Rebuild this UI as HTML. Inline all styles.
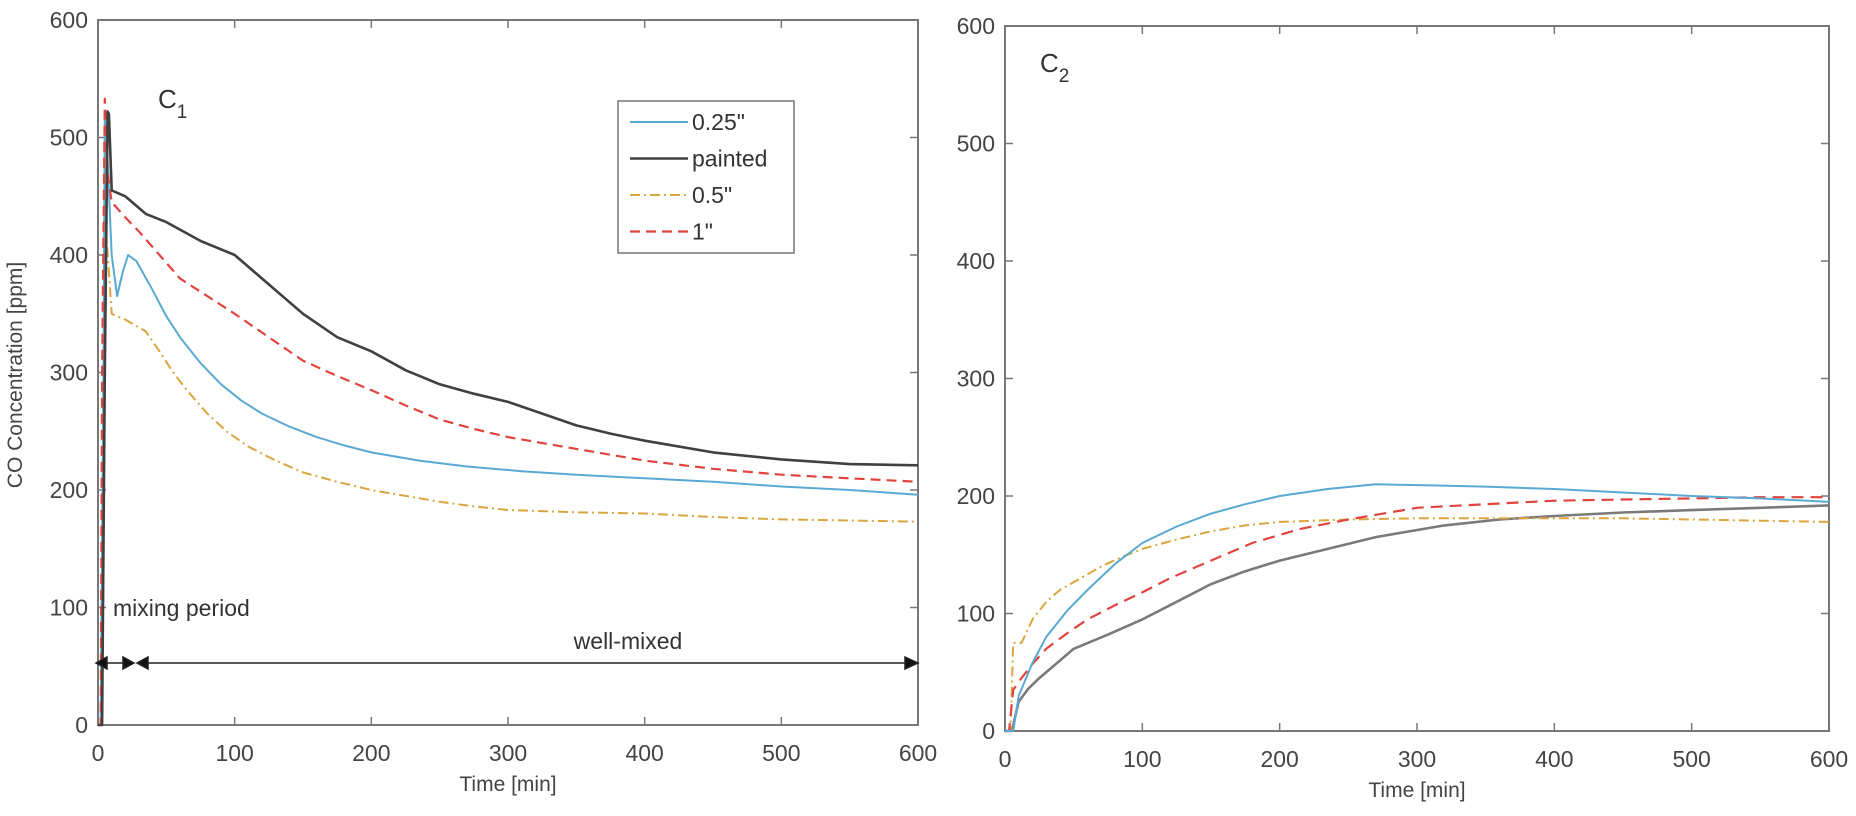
<!DOCTYPE html>
<html><head><meta charset="utf-8"><style>
html,body{margin:0;padding:0;background:#fff;}
svg{display:block;font-family:"Liberation Sans",Arial,sans-serif;}
</style></head><body>
<svg id="chart" width="1856" height="816" viewBox="0 0 1856 816"></svg>
<script>
// ---- data ----
const xTicks = [0,100,200,300,400,500,600];
const yTicks = [0,100,200,300,400,500,600];
const c1Blue_t = [0,2,4,5,7,10,14,18,22,28,40,50,60,75,90,105,120,140,160,180,200,235,270,310,350,400,450,500,550,600];
const c1Blue_v = [0,0,300,520,480,400,365,385,400,395,370,348,330,308,290,276,265,254,245,238,232,225,220,216,213,210,207,203,200,196];
const c1Black_t = [0,3,5,7,8,10,20,35,50,75,100,125,150,175,200,225,250,275,300,325,350,375,400,450,500,550,600];
const c1Black_v = [0,0,300,522,520,455,450,435,428,412,400,375,350,330,318,302,290,282,275,265,255,248,242,232,226,222,221];
const c1Orange_t = [0,2,4,5,6,10,20,35,45,55,65,80,95,110,130,150,175,200,225,250,275,300,350,400,450,500,550,600];
const c1Orange_v = [0,0,300,500,420,350,345,335,318,300,285,265,249,237,225,215,207,200,195,190,186,183,181,180,177,175,174,173];
const c1Red_t = [0,2,3,5,7,10,20,30,45,60,80,100,125,150,175,200,225,250,275,300,350,400,450,500,550,600];
const c1Red_v = [0,0,300,533,470,445,432,420,400,380,365,350,330,310,297,285,272,260,252,245,235,225,218,213,210,207];
const c2Blue_t = [0,6,10,20,30,45,60,80,100,125,150,175,200,235,270,310,350,400,450,500,550,600];
const c2Blue_v = [0,0,30,58,80,102,120,142,160,174,185,193,200,206,210,209,208,206,203,200,198,195];
const c2Orange_t = [0,4,6,12,20,30,40,55,70,85,100,125,150,175,200,250,300,350,400,450,500,550,600];
const c2Orange_v = [0,0,75,75,95,110,120,130,140,148,155,163,170,175,178,180,181,181,181,181,180,179,178];
const c2Red_t = [0,3,6,12,20,30,45,60,80,100,120,150,180,215,250,300,350,400,450,500,550,600];
const c2Red_v = [0,0,35,45,57,70,83,95,107,118,130,145,160,172,180,190,193,196,197,198,199,199];
const c2Gray_t = [0,5,10,17,25,35,50,75,100,125,150,175,200,235,270,320,360,400,450,500,550,600];
const c2Gray_v = [0,0,25,36,45,55,70,82,95,110,125,136,145,155,165,175,180,183,186,188,190,192];
const legendLabels = ['0.25"','painted','0.5"','1"'];

const NS='http://www.w3.org/2000/svg';
const svg=document.getElementById('chart');
function el(tag,attrs,parent){const e=document.createElementNS(NS,tag);for(const k in attrs)e.setAttribute(k,attrs[k]);(parent||svg).appendChild(e);return e;}
function makeAxes(x0,x1,y0,y1){return {x:t=>x0+(t/600)*(x1-x0), y:v=>y0-(v/600)*(y0-y1), x0,x1,y0,y1};}
const A=makeAxes(98,918,725,20);
const B=makeAxes(1005,1829,731,26);

function drawFrame(ax,name){
  const g=el('g',{});
  
  
  el('rect',{x:ax.x0,y:ax.y1,width:ax.x1-ax.x0,height:ax.y0-ax.y1,fill:'none',stroke:'#777','stroke-width':2},g);
  xTicks.forEach(t=>{
    const x=ax.x(t);
    el('line',{x1:x,x2:x,y1:ax.y0,y2:ax.y0-8,stroke:'#777','stroke-width':1.5},g);
    el('line',{x1:x,x2:x,y1:ax.y1,y2:ax.y1+8,stroke:'#777','stroke-width':1.5},g);
    const tx=el('text',{x:x,y:ax.y0+36,'text-anchor':'middle','font-size':23,fill:'#444'},g);
    tx.textContent=t;
    
    
  });
  yTicks.forEach(v=>{
    const y=ax.y(v);
    el('line',{x1:ax.x0,x2:ax.x0+8,y1:y,y2:y,stroke:'#777','stroke-width':1.5},g);
    el('line',{x1:ax.x1,x2:ax.x1-8,y1:y,y2:y,stroke:'#777','stroke-width':1.5},g);
    const tx=el('text',{x:ax.x0-10,y:y+8,'text-anchor':'end','font-size':23,fill:'#444'},g);
    tx.textContent=v;
    
    
  });
  const xt=el('text',{x:(ax.x0+ax.x1)/2,y:ax.y0+66,'text-anchor':'middle','font-size':21,fill:'#444'},g);
  xt.textContent='Time [min]';
  
  
}
function line(ax,ts,vs,color,w,dash,name){
  const pts=ts.map((t,i)=>ax.x(t).toFixed(1)+','+ax.y(vs[i]).toFixed(1)).join(' ');
  const p=el('polyline',{points:pts,fill:'none',stroke:color,'stroke-width':w,'stroke-linejoin':'round'});
  if(dash)p.setAttribute('stroke-dasharray',dash);
  
  
}
drawFrame(A,'c1');
drawFrame(B,'c2');
const BLUE='#5aa9d2',BLACK='#404040',ORANGE='#d9a640',RED='#e0443e',GRAY='#7a7a7a';
line(A,c1Orange_t,c1Orange_v,ORANGE,2,'10,4,2,4','c1-series-0.5in');
line(A,c1Blue_t,c1Blue_v,BLUE,2,null,'c1-series-0.25in');
line(A,c1Red_t,c1Red_v,RED,2.2,'10,6','c1-series-1in');
line(A,c1Black_t,c1Black_v,BLACK,2.6,null,'c1-series-painted');
line(B,c2Gray_t,c2Gray_v,GRAY,2.6,null,'c2-series-painted');
line(B,c2Orange_t,c2Orange_v,ORANGE,2,'10,4,2,4','c2-series-0.5in');
line(B,c2Red_t,c2Red_v,RED,2.2,'12,7','c2-series-1in');
line(B,c2Blue_t,c2Blue_v,BLUE,2,null,'c2-series-0.25in');

const yt=el('text',{x:0,y:0,'text-anchor':'middle','font-size':21,fill:'#444',transform:'translate(22,375) rotate(-90)'});
yt.textContent='CO Concentration [ppm]';



const c1=el('text',{x:158,y:108,'font-size':26,fill:'#333'});
c1.innerHTML='C<tspan dy="10" font-size="19">1</tspan>';


const c2=el('text',{x:1040,y:72,'font-size':26,fill:'#333'});
c2.innerHTML='C<tspan dy="10" font-size="19">2</tspan>';



const lg=el('g',{});


el('rect',{x:618,y:101,width:176,height:152,fill:'#fff',stroke:'#777','stroke-width':1.5},lg);
const lgColors=[BLUE,BLACK,ORANGE,RED],lgDash=[null,null,'10,4,2,4','10,6'],lgW=[2,2.6,2,2.2];
legendLabels.forEach((lab,i)=>{
  const y=122+i*36.5;
  const l=el('line',{x1:630,x2:688,y1:y,y2:y,stroke:lgColors[i],'stroke-width':lgW[i]},lg);
  if(lgDash[i])l.setAttribute('stroke-dasharray',lgDash[i]);
  const t=el('text',{x:692,y:y+8,'font-size':23,fill:'#333'},lg);
  t.textContent=lab;
  
  
});

const mp=el('text',{x:113,y:616,'font-size':23,fill:'#333'});
mp.textContent='mixing period';


const wm=el('text',{x:628,y:649,'text-anchor':'middle','font-size':23,fill:'#333'});
wm.textContent='well-mixed';


const ar=el('g',{stroke:'#222',fill:'#111','stroke-width':1.5});


const ay=663;
el('line',{x1:98,x2:132,y1:ay,y2:ay},ar);
el('polygon',{points:`96,${ay} 107,${ay-6} 107,${ay+6}`},ar);
el('polygon',{points:`134,${ay} 123,${ay-6} 123,${ay+6}`},ar);
el('line',{x1:138,x2:916,y1:ay,y2:ay},ar);
el('polygon',{points:`137,${ay} 148,${ay-6} 148,${ay+6}`},ar);
el('polygon',{points:`918,${ay} 905,${ay-6} 905,${ay+6}`},ar);
</script>
</body></html>
